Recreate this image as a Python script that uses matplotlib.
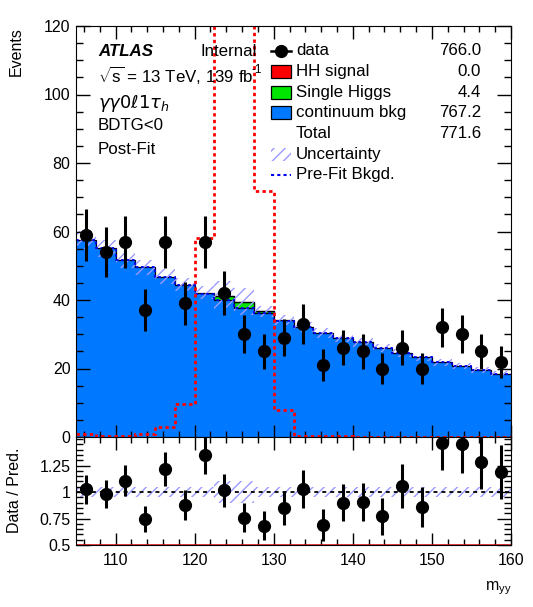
import numpy as np
import matplotlib
matplotlib.use("Agg")
import matplotlib.pyplot as plt
from matplotlib.patches import Rectangle
from matplotlib.lines import Line2D
from matplotlib.ticker import MultipleLocator

plt.rcParams['font.family'] = ['Liberation Sans', 'DejaVu Sans']
plt.rcParams['mathtext.fontset'] = 'custom'
plt.rcParams['mathtext.rm'] = 'Liberation Sans'
plt.rcParams['mathtext.it'] = 'Liberation Sans:italic'
plt.rcParams['mathtext.bf'] = 'Liberation Sans:bold'
plt.rcParams['hatch.linewidth'] = 1.0

# ---------------- data ----------------
bin_edges = np.arange(105.0, 160.0 + 0.01, 2.5)
data_counts = [59, 54, 57, 37, 57, 39, 57, 42, 30, 25, 29, 33, 21, 26, 25, 20, 26, 20, 32, 30, 25, 22]
continuum_bkg = [57.6, 55.1, 51.6, 49.5, 46.8, 44.4, 41.8, 40.0, 37.8, 36.1, 34.0, 32.0,
                 30.4, 28.9, 27.6, 26.0, 24.6, 23.3, 21.8, 20.7, 19.5, 18.5]
single_higgs = [0.0, 0.0, 0.0, 0.0, 0.05, 0.1, 0.3, 1.3, 1.7, 0.6, 0.2, 0.05,
                0.0, 0.0, 0.0, 0.0, 0.0, 0.0, 0.0, 0.0, 0.0, 0.0]
hh_signal = [0.0] * 22
prefit_bkg = [57.6, 55.1, 51.6, 49.5, 46.8, 44.4, 41.8, 40.0, 37.8, 36.1, 34.0, 32.0,
              30.4, 28.9, 27.6, 26.0, 24.6, 23.3, 21.8, 20.7, 19.5, 18.5]
hh_scaled = [0.8, 0.2, 0.2, 0.8, 2.9, 9.5, 58.0, 150.0, 140.0, 71.7, 7.8, 0.4,
             0.4, 0.3, 0.1, 0.1, 0.1, 0.1, 0.1, 0.1, 0.1, 0.1]
rel_unc = [0.045, 0.045, 0.045, 0.045, 0.045, 0.045, 0.045, 0.10, 0.10, 0.045, 0.045, 0.045,
           0.045, 0.045, 0.045, 0.045, 0.045, 0.045, 0.045, 0.045, 0.045, 0.045]
legend_labels = ["data", "HH signal", "Single Higgs", "continuum bkg", "Total", "Uncertainty", "Pre-Fit Bkgd."]
legend_yields = [766.0, 0.0, 4.4, 767.2, 771.6]
x_ticks = [110, 120, 130, 140, 150, 160]
ratio_ticks = [0.5, 0.75, 1.0, 1.25]
ratio_tick_labels = ["0.5", "0.75", "1", "1.25"]

# ---------------- derived ----------------
data = np.array(data_counts, float)
bkg = np.array(continuum_bkg)
hig = np.array(single_higgs)
sig = np.array(hh_signal)
total = bkg + hig + sig
unc = np.array(rel_unc)
centers = 0.5 * (bin_edges[:-1] + bin_edges[1:])

W, H = 533, 607
fig = plt.figure(figsize=(W / 100, H / 100), dpi=100)
def fx(p): return p / W
def fy(p): return 1 - p / H

L, R, T, M, B = 76, 511, 26, 437, 545
ax = fig.add_axes([fx(L), fy(M), (R - L) / W, (M - T) / H])
rax = fig.add_axes([fx(L), fy(B), (R - L) / W, (B - M) / H])

BLUE = '#0078ff'
GREEN = '#00e600'
HATCH = '#9a9aff'

# main panel
ax.stairs(bkg, bin_edges, baseline=0, fill=True, facecolor=BLUE, edgecolor='none', zorder=1)
ax.stairs(bkg + hig, bin_edges, baseline=bkg, fill=True, facecolor=GREEN, edgecolor='none', zorder=1.2)
for i in range(len(hig)):
    if hig[i] > 0.5:
        ax.add_patch(Rectangle((bin_edges[i], bkg[i]), 2.5, hig[i], facecolor='none',
                               edgecolor='k', lw=0.9, zorder=1.3))
ax.stairs(total, bin_edges, baseline=None, color='k', lw=0.9, zorder=1.4)
ax.stairs(total * (1 + unc), bin_edges, baseline=total * (1 - unc), fill=True,
          facecolor='none', edgecolor=HATCH, hatch='///', lw=0, zorder=1.5)
ax.stairs(np.array(prefit_bkg), bin_edges, baseline=None, color='#0000ee', lw=1.3,
          linestyle=(0, (1.5, 1.5)), zorder=1.6)
ax.stairs(np.array(hh_scaled), bin_edges, baseline=None, color='#ff0000', lw=2.0,
          linestyle=(0, (1.2, 1.2)), zorder=2)
ax.errorbar(centers, data, yerr=np.sqrt(data), fmt='o', color='k', ms=8.5,
            elinewidth=2.2, capsize=0, zorder=3)

ax.set_xlim(105, 160)
ax.set_ylim(0, 120)
ax.set_yticks([0, 20, 40, 60, 80, 100, 120])
ax.yaxis.set_minor_locator(MultipleLocator(5))
ax.set_xticks(x_ticks)
ax.xaxis.set_minor_locator(MultipleLocator(2))
ax.tick_params(which='both', direction='in', top=True, right=True, labelbottom=False,
               labelsize=11.5, pad=4, width=1)
ax.tick_params(axis='y', which='major', length=10)
ax.tick_params(axis='y', which='minor', length=5)
ax.tick_params(axis='x', which='major', length=9)
ax.tick_params(axis='x', which='minor', length=4.5)

# ratio panel
ratio = data / total
rerr = np.sqrt(data) / total
rax.stairs(1 + unc, bin_edges, baseline=1 - unc, fill=True, facecolor='none',
           edgecolor=HATCH, hatch='///', lw=0, zorder=1)
rax.axhline(1.0, color='k', lw=1.3, linestyle=(0, (2.2, 2.2)), zorder=1.5)
rax.axhline(0.503, color='#dd0000', lw=1.8, zorder=1.6)
rax.errorbar(centers, ratio, yerr=rerr, fmt='o', color='k', ms=8.5,
             elinewidth=2.2, capsize=0, zorder=3)
rax.set_xlim(105, 160)
rax.set_ylim(0.5, 1.52)
rax.set_yticks(ratio_ticks)
rax.set_yticklabels(ratio_tick_labels)
rax.yaxis.set_minor_locator(MultipleLocator(0.05))
rax.set_xticks(x_ticks)
rax.set_xticklabels([str(t) for t in x_ticks])
rax.xaxis.set_minor_locator(MultipleLocator(2))
rax.tick_params(which='both', direction='in', top=True, right=True, labelsize=11.5, pad=4, width=1)
rax.tick_params(axis='y', which='major', length=10)
rax.tick_params(axis='y', which='minor', length=5)
rax.tick_params(axis='x', which='major', length=9)
rax.tick_params(axis='x', which='minor', length=4.5)
rax.tick_params(axis='x', pad=6)

# axis labels
fig.text(fx(16), fy(27), "Events", rotation=90, ha='center', va='top', fontsize=11.5)
fig.text(fx(15), fy(490), "Data / Pred.", rotation=90, ha='center', va='center', fontsize=11.5)
fig.text(fx(512), fy(588), r"m$_{\mathregular{yy}}$", ha='right', va='center', fontsize=11.5)

# ATLAS labels
fs = 12.2
fig.text(fx(98), fy(51.5), "ATLAS", fontsize=fs, fontweight='bold', fontstyle='italic', va='center')
fig.text(fx(200), fy(51.5), "Internal", fontsize=fs, va='center')
fig.text(fx(98), fy(76), r"$\sqrt{\mathregular{s}}$ = 13 TeV, 139 fb", fontsize=fs, va='center')
fig.text(fx(252), fy(70), "-1", fontsize=8.5, va='center')
fig.text(fx(98), fy(104), r"$\gamma\gamma 0\ell 1\tau_{h}$", fontsize=13, va='center',
         math_fontfamily='dejavusans')
fig.text(fx(98), fy(126), "BDTG<0", fontsize=fs, va='center')
fig.text(fx(98), fy(150), "Post-Fit", fontsize=fs, va='center')

# legend
rows = [50.7, 71.7, 92.3, 112.7, 133.3, 154.0, 174.5]
sx0, sx1 = 271, 291
for lab, yy in zip(legend_labels, rows):
    fig.text(fx(296), fy(yy), lab, fontsize=fs, va='center')
for val, yy in zip(legend_yields, rows[:5]):
    fig.text(fx(481), fy(yy), f"{val:.1f}", fontsize=fs, va='center', ha='right')
# data symbol
fig.add_artist(Line2D([fx(sx0), fx(sx1)], [fy(rows[0])] * 2, color='k', lw=1.8, transform=fig.transFigure))
fig.add_artist(Line2D([fx(281)], [fy(rows[0])], marker='o', ms=8.5, color='k', transform=fig.transFigure))
box_h = 13
for yy, col in zip(rows[1:4], ['#ff0000', GREEN, BLUE]):
    fig.add_artist(Rectangle((fx(sx0), fy(yy + box_h / 2)), (sx1 - sx0) / W, box_h / H,
                             facecolor=col, edgecolor='k', lw=0.9, transform=fig.transFigure))
fig.add_artist(Rectangle((fx(sx0), fy(rows[5] + box_h / 2)), (sx1 - sx0) / W, box_h / H,
                         facecolor='none', edgecolor=HATCH, hatch='///', lw=0, transform=fig.transFigure))
fig.add_artist(Line2D([fx(sx0), fx(sx1)], [fy(rows[6])] * 2, color='#0000ee', lw=1.5,
                      linestyle=(0, (1.5, 1.5)), transform=fig.transFigure))

fig.savefig("out.png", dpi=100)
